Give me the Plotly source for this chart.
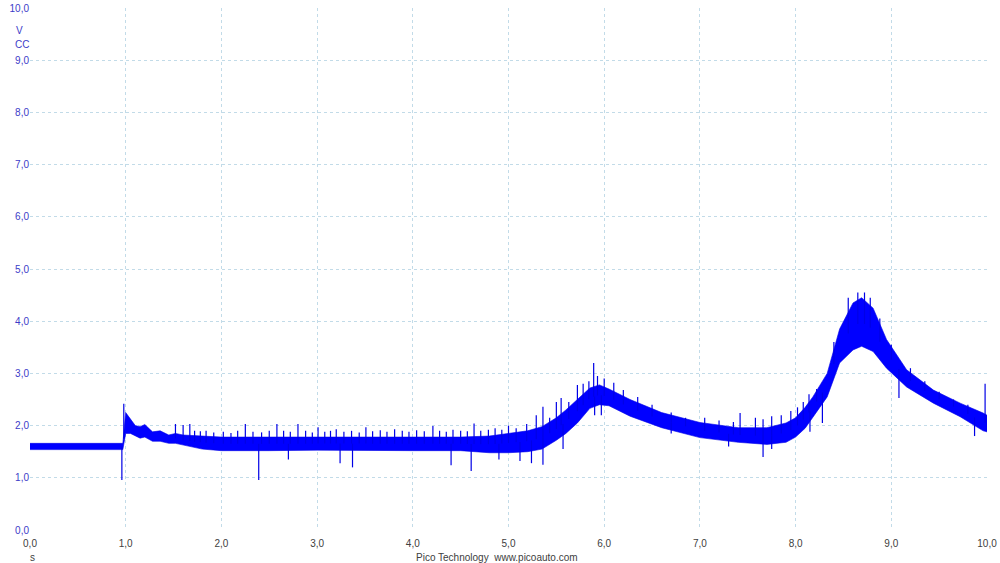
import numpy as np
import plotly.graph_objects as go

# ---- Data ----
x_ticks = [0, 1, 2, 3, 4, 5, 6, 7, 8, 9, 10]
x_tick_labels = ["0,0", "1,0", "2,0", "3,0", "4,0", "5,0", "6,0", "7,0", "8,0", "9,0", "10,0"]
y_ticks = [0, 1, 2, 3, 4, 5, 6, 7, 8, 9, 10]
y_tick_labels = ["0,0", "1,0", "2,0", "3,0", "4,0", "5,0", "6,0", "7,0", "8,0", "9,0", "10,0"]

# envelope of the noisy trace (time s, volts)
env_t = [0.0, 0.5, 0.95, 0.97, 1.0, 1.05, 1.1, 1.15, 1.2, 1.28, 1.36, 1.45, 1.52, 1.6,
         1.8, 2.0, 2.5, 3.0, 3.5, 4.0, 4.5, 4.8, 5.0, 5.2, 5.35, 5.5, 5.6, 5.72, 5.85,
         5.95, 6.05, 6.27, 6.6, 7.0, 7.4, 7.7, 7.9, 8.0, 8.1, 8.18, 8.33, 8.46, 8.6,
         8.69, 8.81, 8.95, 9.16, 9.44, 9.72, 9.96, 10.0]
env_upper = [1.66, 1.66, 1.66, 1.66, 2.25, 2.12, 2.0, 1.98, 2.02, 1.88, 1.9, 1.82, 1.85, 1.82,
             1.8, 1.78, 1.78, 1.78, 1.78, 1.78, 1.78, 1.8, 1.85, 1.9, 1.98, 2.15, 2.3, 2.5, 2.72,
             2.78, 2.7, 2.5, 2.25, 2.06, 1.96, 1.96, 2.05, 2.15, 2.35, 2.55, 3.0, 3.85, 4.35,
             4.45, 4.25, 3.65, 3.07, 2.68, 2.43, 2.24, 2.2]
env_lower = [1.54, 1.54, 1.54, 1.54, 1.85, 1.85, 1.8, 1.76, 1.78, 1.7, 1.7, 1.66, 1.66, 1.62,
             1.55, 1.52, 1.52, 1.53, 1.53, 1.52, 1.52, 1.48, 1.48, 1.5, 1.55, 1.72, 1.85, 2.05, 2.33,
             2.4, 2.38, 2.18, 1.96, 1.77, 1.68, 1.64, 1.68, 1.78, 1.95, 2.15, 2.55, 3.2, 3.45,
             3.52, 3.42, 3.1, 2.74, 2.43, 2.17, 1.9, 1.88]

# upward spikes (time s, peak volts)
spike_up_t = [0.98, 1.52, 1.60, 1.67, 1.72, 1.78, 1.84, 1.92, 2.02, 2.10, 2.17, 2.25, 2.33, 2.42,
              2.50, 2.58, 2.65, 2.72, 2.80, 2.88, 2.95, 3.01, 3.08, 3.14, 3.20, 3.28, 3.36, 3.44,
              3.51, 3.58, 3.66, 3.73, 3.81, 3.89, 3.96, 4.04, 4.12, 4.21, 4.28, 4.35, 4.42, 4.50,
              4.57, 4.64, 4.71, 4.79, 4.86, 4.93, 5.00, 5.08, 5.19, 5.29, 5.36, 5.43, 5.50, 5.55,
              5.63, 5.72, 5.78, 5.84, 5.89, 5.93, 6.00, 6.10, 6.20, 6.35, 6.50, 6.70, 6.85, 7.05,
              7.20, 7.35, 7.42, 7.58, 7.66, 7.75, 7.85, 7.95, 8.02, 8.08, 8.14, 8.22, 8.40, 8.55,
              8.65, 8.72, 8.78, 8.88, 9.00, 9.20, 9.35, 9.50, 9.65, 9.80, 9.98]
spike_up_v = [2.42, 2.03, 2.01, 2.03, 1.90, 1.89, 1.90, 1.87, 1.88, 1.86, 1.90, 2.03, 1.88, 1.87,
              1.90, 2.03, 1.90, 1.88, 2.03, 1.90, 1.87, 1.97, 1.88, 1.90, 1.93, 1.88, 1.90, 1.87,
              1.97, 1.89, 1.91, 1.88, 1.93, 1.90, 1.88, 1.91, 1.89, 1.99, 1.90, 1.88, 1.92, 1.90,
              1.89, 2.04, 1.90, 1.92, 1.95, 1.92, 2.00, 1.95, 2.03, 2.20, 2.36, 2.15, 2.45, 2.53,
              2.45, 2.78, 2.80, 2.85, 3.20, 2.95, 2.90, 2.82, 2.68, 2.55, 2.40, 2.25, 2.15, 2.15,
              2.10, 2.07, 2.24, 2.15, 2.12, 2.18, 2.20, 2.28, 2.35, 2.45, 2.60, 2.70, 3.60, 4.45,
              4.55, 4.55, 4.45, 4.05, 3.55, 3.10, 2.85, 2.65, 2.50, 2.40, 2.80]

# downward spikes (time s, bottom volts)
spike_dn_t = [0.96, 2.39, 2.70, 3.24, 3.37, 4.40, 4.61, 4.90, 5.12, 5.24, 5.36, 5.57, 5.90,
              5.97, 6.70, 7.30, 7.66, 7.75, 8.15, 8.28, 9.08, 9.87]
spike_dn_v = [0.96, 0.96, 1.35, 1.28, 1.20, 1.24, 1.13, 1.35, 1.32, 1.28, 1.25, 1.55, 2.20,
              2.20, 1.85, 1.60, 1.40, 1.55, 1.88, 2.05, 2.53, 1.80]

TRACE = "#0000ff"
GRID = "#c2dbe8"
FONT = "Liberation Sans, Arial, sans-serif"

fig = go.Figure()

# noise band
fig.add_trace(go.Scatter(
    x=env_t + env_t[::-1],
    y=env_upper + env_lower[::-1],
    fill="toself", fillcolor=TRACE, mode="lines",
    line=dict(color="#0000e6", width=0.6),
    hoverinfo="skip", showlegend=False))

# spikes as vertical segments from the band body
mid = lambda t: float(np.interp(t, env_t, (np.array(env_upper) + np.array(env_lower)) / 2))
sx, sy = [], []
for t, v in zip(spike_up_t, spike_up_v):
    sx += [t, t, None]
    sy += [mid(t), v, None]
for t, v in zip(spike_dn_t, spike_dn_v):
    sx += [t, t, None]
    sy += [mid(t), v, None]
fig.add_trace(go.Scatter(x=sx, y=sy, mode="lines",
                         line=dict(color="#0000e6", width=1.2),
                         hoverinfo="skip", showlegend=False))

fig.update_layout(
    width=1000, height=563,
    margin=dict(l=30, r=13, t=8, b=33, autoexpand=False),
    paper_bgcolor="white", plot_bgcolor="white",
    font=dict(family=FONT, size=10),
    showlegend=False,
)
fig.update_xaxes(
    range=[0, 10], tickvals=x_ticks, ticktext=x_tick_labels,
    showgrid=True, gridcolor=GRID, griddash="3px,3px", gridwidth=1,
    zeroline=False, showline=False, ticks="", automargin=False,
    ticklabelstandoff=6,
    tickfont=dict(color="#404040", size=10, family=FONT),
)
fig.update_yaxes(
    range=[0, 10], tickvals=y_ticks, ticktext=y_tick_labels,
    showgrid=True, gridcolor=GRID, griddash="3px,3px", gridwidth=1,
    zeroline=False, showline=False, ticks="", automargin=False,
    tickfont=dict(color="#3c3cc8", size=10, family=FONT),
)

# axis unit labels and footer
fig.add_annotation(xref="paper", yref="paper", x=-0.011, y=0.972, text="V",
                   showarrow=False, font=dict(color="#3c3cc8", size=10), xanchor="center")
fig.add_annotation(xref="paper", yref="paper", x=-0.008, y=0.945, text="CC",
                   showarrow=False, font=dict(color="#3c3cc8", size=10), xanchor="center")
fig.add_annotation(xref="paper", yref="paper", x=0.003, y=-0.052, text="s",
                   showarrow=False, font=dict(color="#404040", size=10), xanchor="center", yanchor="middle")
fig.add_annotation(xref="paper", yref="paper", x=0.488, y=-0.052,
                   text="Pico Technology &nbsp;www.picoauto.com",
                   showarrow=False, font=dict(color="#404040", size=10), xanchor="center", yanchor="middle")

fig.write_html("out.html", config={"displayModeBar": False},
               post_script="document.body.style.margin='0';document.body.style.overflow='hidden';")
